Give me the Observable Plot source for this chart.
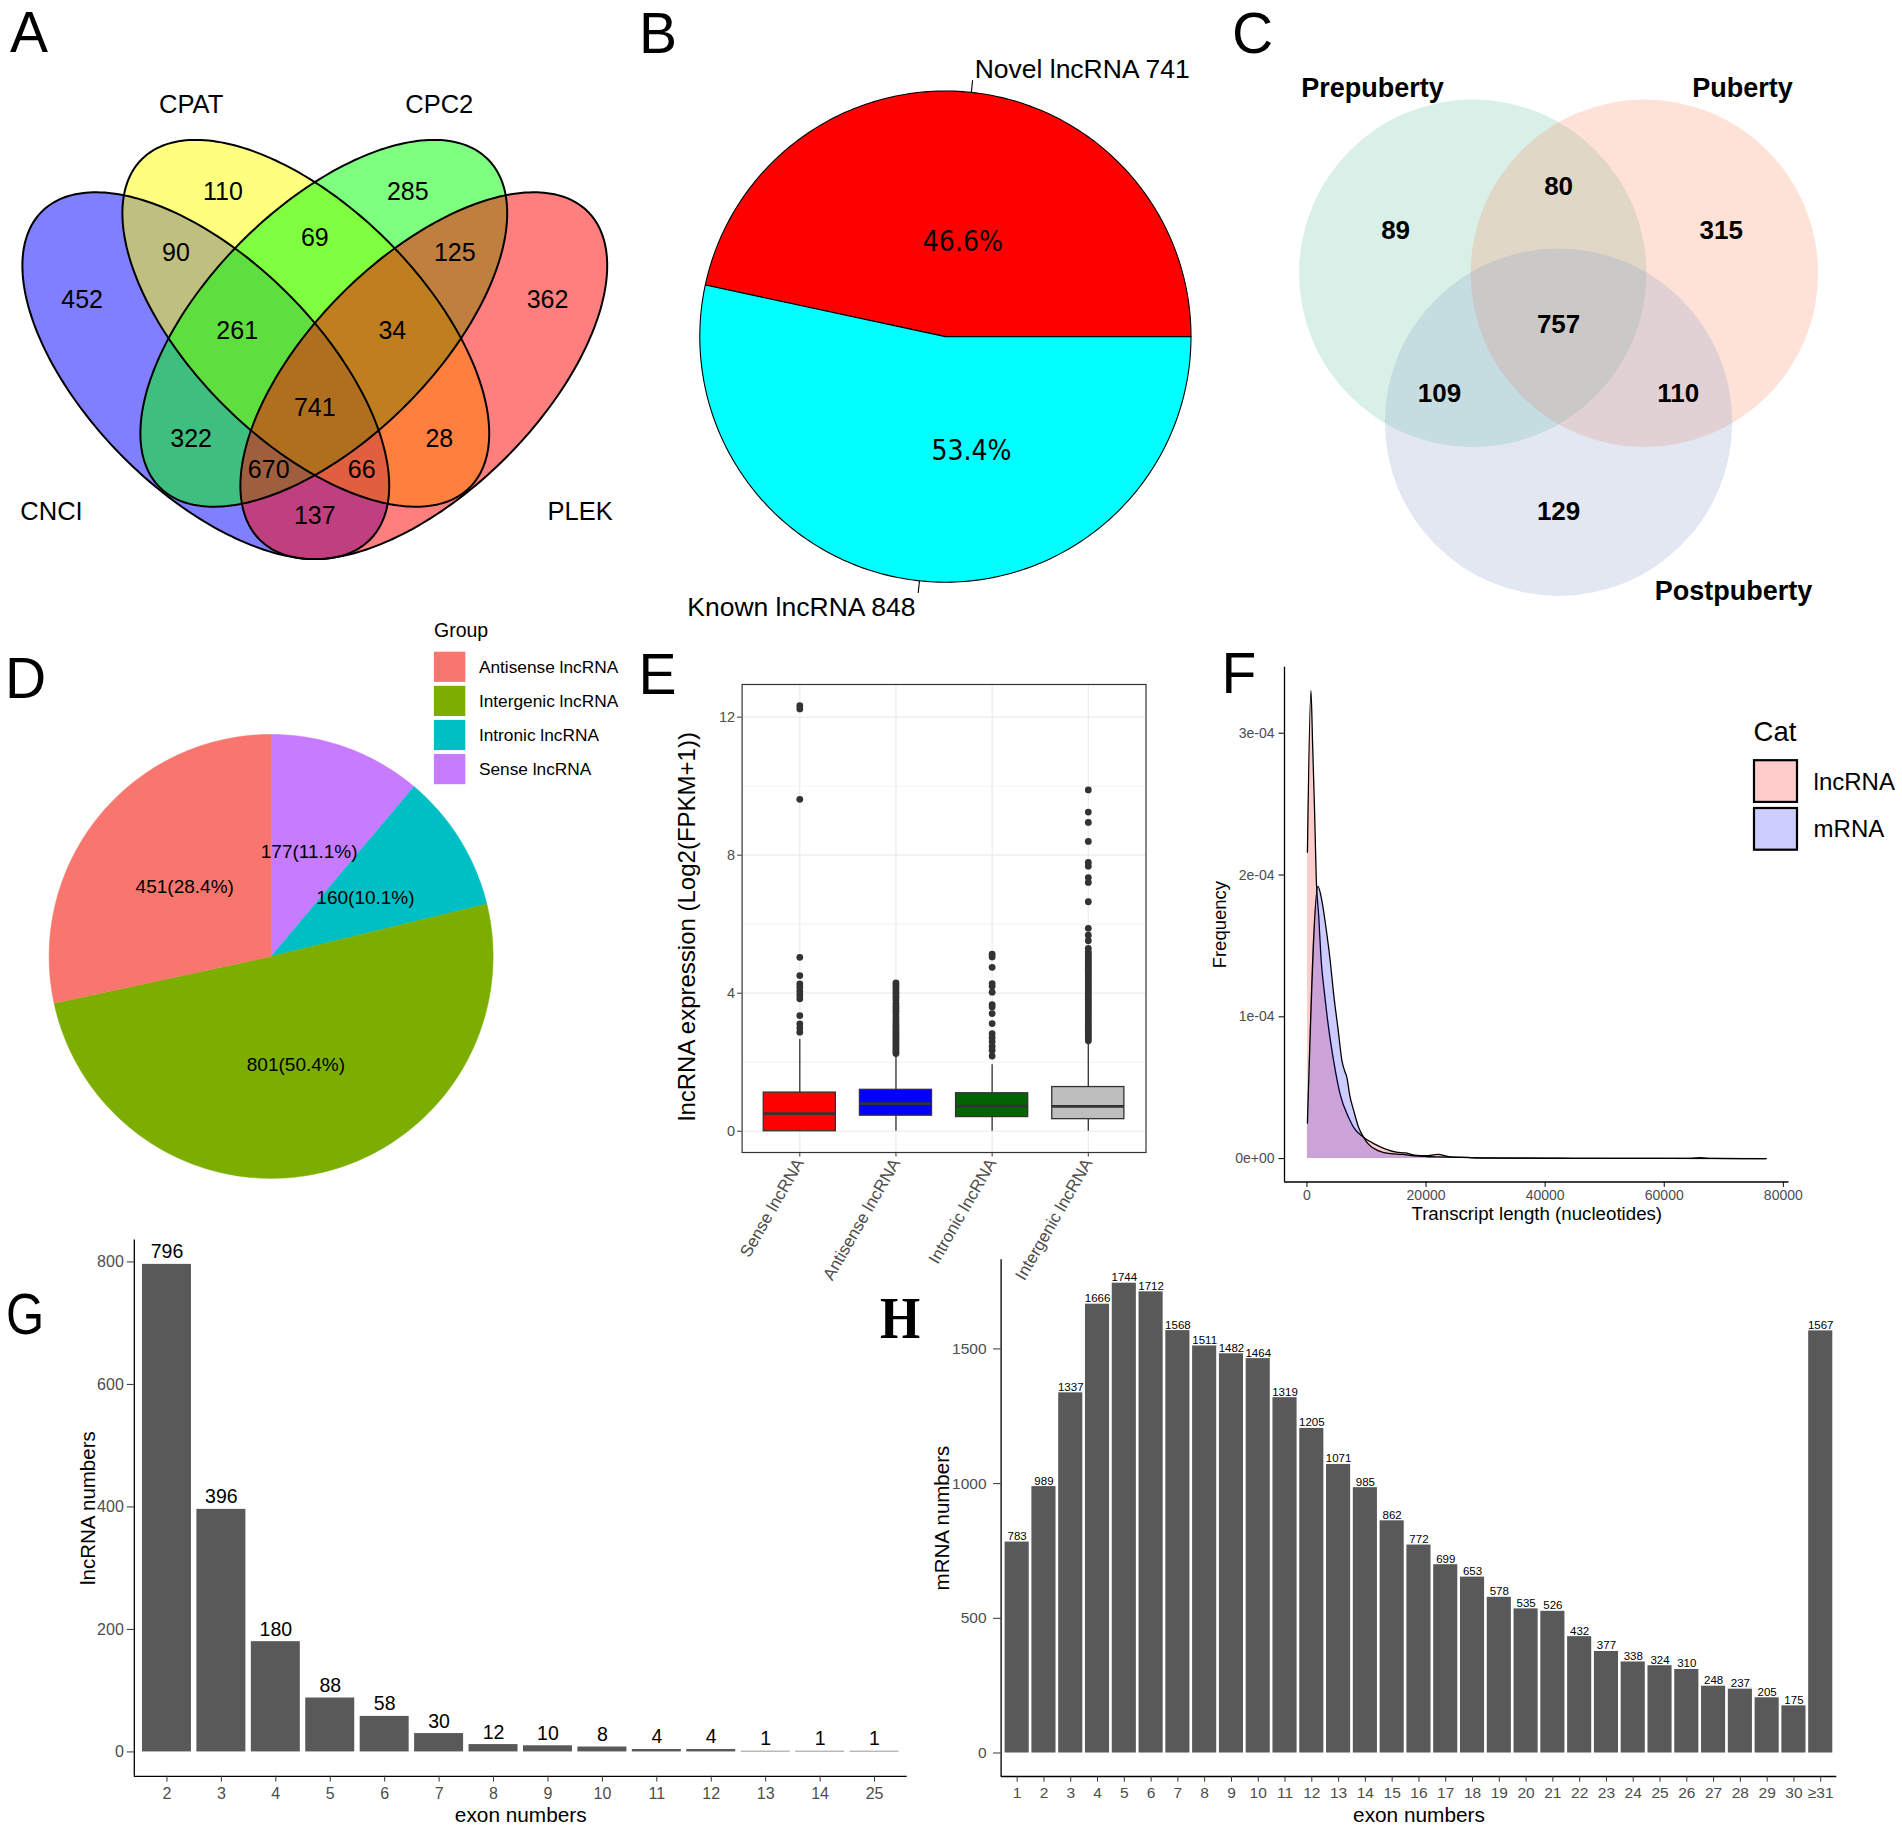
<!DOCTYPE html>
<html>
<head>
<meta charset="utf-8">
<script src="https://cdn.jsdelivr.net/npm/d3@7"></script>
<script src="https://cdn.jsdelivr.net/npm/@observablehq/plot@0.6"></script>
<style>
  html, body { margin: 0; padding: 0; background: #fff; }
  #fig { position: relative; width: 1902px; height: 1829px; overflow: hidden; background: #fff;
         font-family: "Liberation Sans", Arial, Helvetica, sans-serif; }
  #fig svg { max-width: none !important; }
  .letter { position: absolute; font-size: 57px; line-height: 1; color: #000; white-space: nowrap; transform-origin: 0 0; }
</style>
</head>
<body>
<div id="fig"></div>
<script>
// ======================= DATA =======================
// A: four-tool coding-potential Venn
const vennASets = ["CNCI", "CPAT", "CPC2", "PLEK"];
const vennAColors = ["#0000FF", "#FFFF00", "#00FF00", "#FF0000"];
const vennARegionNames = ["CNCI only", "CPAT only", "CPC2 only", "PLEK only", "CNCI∩CPAT", "CPAT∩CPC2", "CPC2∩PLEK",
  "CNCI∩CPAT∩CPC2", "CPAT∩CPC2∩PLEK", "all four", "CNCI∩CPC2", "CPAT∩PLEK", "CNCI∩CPC2∩PLEK", "CNCI∩CPAT∩PLEK", "CNCI∩PLEK"];
const vennACounts = [452, 110, 285, 362, 90, 69, 125, 261, 34, 741, 322, 28, 670, 66, 137];

// B: novel vs known lncRNA
const pieBNames = ["Novel lncRNA", "Known lncRNA"];
const pieBCounts = [741, 848];
const pieBColors = ["#FF0000", "#00FFFF"];

// C: three-stage Venn
const vennCSets = ["Prepuberty", "Puberty", "Postpuberty"];
const vennCColors = ["#66C2A5", "#FC8D62", "#8DA0CB"];
const vennCRegionNames = ["Prepuberty only", "Prepuberty∩Puberty", "Puberty only", "all three",
  "Prepuberty∩Postpuberty", "Puberty∩Postpuberty", "Postpuberty only"];
const vennCCounts = [89, 80, 315, 757, 109, 110, 129];

// D: lncRNA classes
const pieDGroups = ["Antisense lncRNA", "Intergenic lncRNA", "Intronic lncRNA", "Sense lncRNA"];
const pieDCounts = [451, 801, 160, 177];
const pieDColors = ["#F8766D", "#7CAE00", "#00BFC4", "#C77CFF"];

// E: expression boxplots (summary statistics)
const exprCats = ["Sense lncRNA", "Antisense lncRNA", "Intronic lncRNA", "Intergenic lncRNA"];
const exprColors = ["#FF0000", "#0000FF", "#006400", "#BEBEBE"];
const exprQ1 = [0.0, 0.45, 0.41, 0.35];
const exprMedian = [0.51, 0.80, 0.73, 0.72];
const exprQ3 = [1.12, 1.20, 1.10, 1.28];
const exprWhiskerLo = [0, 0, 0, 0];
const exprWhiskerHi = [2.66, 2.20, 1.93, 2.58];
const senseOutliers = [12.33, 12.24, 9.62, 5.04, 4.51, 4.27, 4.17, 4.06, 3.95, 3.84, 3.35, 3.11, 2.99, 2.87];
const antisenseOutliers = [4.30, 4.25, 4.18, 4.10, 4.02, 3.95, 3.88, 3.80, 3.70, 3.62, 3.55, 3.48, 3.40, 3.30, 3.22,
  3.15, 3.08, 3.02, 2.96, 2.90, 2.84, 2.78, 2.72, 2.66, 2.60, 2.54, 2.48, 2.42, 2.36, 2.30, 2.25];
const intronicOutliers = [5.13, 5.05, 4.75, 4.28, 4.20, 4.03, 3.67, 3.60, 3.41, 3.12, 2.83, 2.71, 2.59, 2.46, 2.35, 2.18];
const intergenicOutliers = [9.89, 9.25, 8.95, 8.40, 7.79, 7.68, 7.35, 7.21, 6.65, 5.88, 5.68, 5.52, 5.30,
  5.20, 5.14, 5.08, 5.02, 4.96, 4.90, 4.84, 4.78, 4.72, 4.66, 4.60, 4.54, 4.48, 4.42, 4.36, 4.30, 4.24, 4.18, 4.12,
  4.06, 4.00, 3.94, 3.88, 3.82, 3.76, 3.70, 3.64, 3.58, 3.52, 3.46, 3.40, 3.34, 3.28, 3.22, 3.16, 3.10, 3.04, 2.98,
  2.92, 2.86, 2.80, 2.74, 2.68, 2.62];

// F: transcript length densities (density in units of 1e-4)
const lncLength = [80, 670, 950, 1280, 1560, 1960, 2400, 2960, 3640, 4480, 5600, 7000, 7840, 9520, 11480, 13000,
  15000, 16500, 18000, 20000, 22000, 24000, 27000, 30000, 34000, 38000, 45000, 55000, 64000, 66000, 68000, 77100];
const lncDensityE4 = [2.16, 3.30, 2.92, 2.45, 1.98, 1.72, 1.39, 1.16, 0.92, 0.69, 0.45, 0.29, 0.22, 0.15, 0.10, 0.07,
  0.045, 0.04, 0.025, 0.02, 0.03, 0.012, 0.008, 0.005, 0.004, 0.004, 0.002, 0.001, 0.001, 0.006, 0.001, 0.0];
const mrnaLength = [80, 1850, 2500, 3190, 3920, 4480, 5200, 5880, 6320, 6720, 7170, 7840, 8680, 9520, 10360, 12040,
  14000, 16000, 18000, 20000, 22000, 26000, 30000, 36000, 40000, 50000, 60000, 77100];
const mrnaDensityE4 = [0.25, 1.92, 1.82, 1.63, 1.39, 1.16, 0.92, 0.69, 0.62, 0.57, 0.45, 0.34, 0.22, 0.15, 0.10, 0.055,
  0.035, 0.03, 0.02, 0.015, 0.012, 0.008, 0.004, 0.003, 0.002, 0.001, 0.001, 0.0];
const densityCats = ["lncRNA", "mRNA"];
const densityColors = ["#FF0000", "#0000FF"];

// G: lncRNA exon numbers
const lncExonCats = ["2", "3", "4", "5", "6", "7", "8", "9", "10", "11", "12", "13", "14", "25"];
const lncExonCounts = [796, 396, 180, 88, 58, 30, 12, 10, 8, 4, 4, 1, 1, 1];

// H: mRNA exon numbers
const mrnaExonCats = ["1", "2", "3", "4", "5", "6", "7", "8", "9", "10", "11", "12", "13", "14", "15", "16", "17",
  "18", "19", "20", "21", "22", "23", "24", "25", "26", "27", "28", "29", "30", "≥31"];
const mrnaExonCounts = [783, 989, 1337, 1666, 1744, 1712, 1568, 1511, 1482, 1464, 1319, 1205, 1071, 985, 862, 772,
  699, 653, 578, 535, 526, 432, 377, 338, 324, 310, 248, 237, 205, 175, 1567];

// ======================= LAYOUT (geometry only) =======================
const A_ELLIPSE = {a: 232, b: 116, centers: [[205.3, 375.2], [305.3, 322.8], [323.3, 322.8], [423.3, 375.2]], tilt: [45, 45, -45, -45]};
const A_REGION_XY = [[81.6, 299], [222.4, 191], [407.3, 191], [547, 299], [175.5, 252], [314.3, 237], [454.3, 252],
  [236.7, 330], [391.8, 330], [314.3, 407], [190.6, 438.4], [438.8, 438.4], [268.2, 469.6], [361.2, 469.6], [314.3, 515.5]];
const A_SET_XY = [[51, 519.3], [190.6, 112.9], [438.8, 112.9], [579.6, 519.3]];
const B_PIE = {cx: 304.9, cy: 336.1, r: 245.6};
const B_PCT_AT = [[0.071, 0.387], [0.106, -0.464]];
const C_CIRCLE = {r: 173.7, centers: [[212.3, 272.8], [383.9, 272.8], [298.1, 421.7]]};
const C_REGION_XY = [[135.1, 230.5], [298.1, 185.8], [460.7, 230.5], [298.1, 324.2], [179, 393.4], [417.7, 393.4], [298.1, 511.3]];
const C_SET_XY = [[112, 96.9], [482, 96.9], [473, 599]];
const D_PIE = {cx: 270.6, cy: 355.9, r: 222};
const D_LEG = {x: 433.9, w: 31.4, h: 30.2, y0: 51.7, pitch: 34.1, textX: 478.4, titleX: 433.5, titleY: 36.4};

// ======================= HELPERS =======================
const FONT = "'Liberation Sans', Arial, Helvetica, sans-serif";
const NARROW = "'Liberation Sans Narrow', 'Arial Narrow', 'DejaVu Sans Condensed', sans-serif";
const fig = document.getElementById("fig");
const baseStyle = {fontFamily: FONT, background: "transparent", overflow: "visible", maxWidth: "none"};
function put(node, left, top) {
  node.style.position = "absolute"; node.style.left = left + "px"; node.style.top = top + "px";
  fig.appendChild(node); return node;
}
function idPlot(w, h, marks) {
  return Plot.plot({
    width: w, height: h, margin: 0,
    x: {type: "linear", domain: [0, w], range: [0, w], axis: null},
    y: {type: "linear", domain: [0, h], range: [0, h], axis: null},
    color: {type: "identity"}, style: baseStyle, marks
  });
}
function expand(lo, hi, f = 0.05) { const d = hi - lo; return [lo - f * d, hi + f * d]; }
function ellipsePts(cx, cy, a, b, tiltDeg, n = 240) {
  const p = tiltDeg * Math.PI / 180, out = [];
  for (let k = 0; k < n; ++k) {
    const t = 2 * Math.PI * k / n, ex = a * Math.cos(t), ey = b * Math.sin(t);
    out.push({x: cx + ex * Math.cos(p) - ey * Math.sin(p), y: cy + ex * Math.sin(p) + ey * Math.cos(p)});
  }
  return out;
}
function wedgePts(pos, a0, a1) {
  const out = [pos(0, 0)];
  const n = Math.max(2, Math.ceil(Math.abs(a1 - a0) / (Math.PI / 180)));
  for (let k = 0; k <= n; ++k) out.push(pos(a0 + (a1 - a0) * k / n, 1));
  return out;
}
const sciFmt = d => d3.format(".0e")(d).replace(/e([+-])(\d)$/, (m, s, g) => "e" + s + "0" + g);
const intFmt = d3.format("d");

// ======================= PANEL A =======================
{
  const ells = vennASets.map((s, k) => ({s, color: vennAColors[k],
    pts: ellipsePts(A_ELLIPSE.centers[k][0], A_ELLIPSE.centers[k][1], A_ELLIPSE.a, A_ELLIPSE.b, A_ELLIPSE.tilt[k])}));
  const regions = vennACounts.map((v, k) => ({v, name: vennARegionNames[k], x: A_REGION_XY[k][0], y: A_REGION_XY[k][1]}));
  const sets = vennASets.map((s, k) => ({s, x: A_SET_XY[k][0], y: A_SET_XY[k][1]}));
  put(idPlot(640, 590, [
    ...ells.map(e => Plot.line(e.pts, {x: "x", y: "y", curve: "linear-closed", fill: e.color, fillOpacity: 0.5, stroke: "none"})),
    ...ells.map(e => Plot.line(e.pts, {x: "x", y: "y", curve: "linear-closed", stroke: "#000", strokeWidth: 2})),
    Plot.text(regions, {x: "x", y: "y", text: d => String(d.v), fontSize: 25, fill: "#000"}),
    Plot.text(sets, {x: "x", y: "y", text: "s", fontSize: 25.5, lineAnchor: "bottom", fill: "#000"})
  ]), 0, 0);
}

// ======================= PANEL B =======================
{
  const tot = d3.sum(pieBCounts);
  const pos = (t, f) => ({x: B_PIE.cx + f * B_PIE.r * Math.cos(t), y: B_PIE.cy - f * B_PIE.r * Math.sin(t)});
  let t0 = 0; const slices = [];
  pieBCounts.forEach((v, k) => { const t1 = t0 + 2 * Math.PI * v / tot; slices.push({k, v, t0, t1, mid: (t0 + t1) / 2}); t0 = t1; });
  const marks = slices.map(s => Plot.line(wedgePts(pos, s.t0, s.t1),
    {x: "x", y: "y", curve: "linear-closed", fill: pieBColors[s.k], stroke: "#000", strokeWidth: 1.1}));
  const leaders = slices.map(s => ({a: pos(s.mid, 1), b: pos(s.mid, 1.05)}));
  marks.push(Plot.link(leaders, {x1: d => d.a.x, y1: d => d.a.y, x2: d => d.b.x, y2: d => d.b.y, stroke: "#000", strokeWidth: 1.1}));
  slices.forEach(s => {
    const e = pos(s.mid, 1.05), right = Math.cos(s.mid) >= 0, up = Math.sin(s.mid) >= 0;
    marks.push(Plot.text([s], {x: () => e.x, y: () => e.y, text: d => pieBNames[d.k] + " " + d.v,
      textAnchor: right ? "start" : "end", lineAnchor: up ? "bottom" : "top",
      dx: right ? 2 : -2.6, dy: up ? -2.5 : 4, fontSize: 26.5, fill: "#000"}));
  });
  marks.push(Plot.text(slices, {x: d => B_PIE.cx + B_PCT_AT[d.k][0] * B_PIE.r, y: d => B_PIE.cy - B_PCT_AT[d.k][1] * B_PIE.r,
    text: d => (100 * d.v / tot).toFixed(1) + "%", fontSize: 28, fontFamily: NARROW, fill: "#000"}));
  put(idPlot(620, 630, marks), 640, 0);
}

// ======================= PANEL C =======================
{
  const circles = vennCSets.map((s, k) => ({s, color: vennCColors[k], x: C_CIRCLE.centers[k][0], y: C_CIRCLE.centers[k][1]}));
  const regions = vennCCounts.map((v, k) => ({v, name: vennCRegionNames[k], x: C_REGION_XY[k][0], y: C_REGION_XY[k][1]}));
  const sets = vennCSets.map((s, k) => ({s, x: C_SET_XY[k][0], y: C_SET_XY[k][1]}));
  put(idPlot(642, 630, [
    Plot.dot(circles, {x: "x", y: "y", r: C_CIRCLE.r, fill: d => d.color, fillOpacity: 0.25, stroke: "none"}),
    Plot.text(regions, {x: "x", y: "y", text: d => String(d.v), fontSize: 26, fontWeight: "bold", fill: "#000"}),
    Plot.text(sets, {x: "x", y: "y", text: "s", fontSize: 27, fontWeight: "bold", lineAnchor: "bottom", fill: "#000"})
  ]), 1260, 0);
}

// ======================= PANEL D =======================
{
  const tot = d3.sum(pieDCounts);
  const pos = (a, f) => ({x: D_PIE.cx + f * D_PIE.r * Math.sin(a), y: D_PIE.cy - f * D_PIE.r * Math.cos(a)});
  let a0 = 0; const slices = [];
  [3, 2, 1, 0].forEach(k => { const v = pieDCounts[k], a1 = a0 + 2 * Math.PI * v / tot; slices.push({k, v, a0, a1, mid: (a0 + a1) / 2}); a0 = a1; });
  const marks = slices.map(s => Plot.line(wedgePts(pos, s.a0, s.a1),
    {x: "x", y: "y", curve: "linear-closed", fill: pieDColors[s.k], stroke: pieDColors[s.k], strokeWidth: 0.5}));
  marks.push(Plot.text(slices, {x: d => pos(d.mid, 0.5).x, y: d => pos(d.mid, 0.5).y,
    text: d => d.v + "(" + (100 * d.v / tot).toFixed(1) + "%)", fontSize: 19, fill: "#000"}));
  const leg = pieDGroups.map((g, k) => ({g, color: pieDColors[k], y1: D_LEG.y0 + k * D_LEG.pitch}));
  marks.push(Plot.rect(leg, {x1: () => D_LEG.x, x2: () => D_LEG.x + D_LEG.w, y1: "y1", y2: d => d.y1 + D_LEG.h, fill: d => d.color}));
  marks.push(Plot.text(leg, {x: () => D_LEG.textX, y: d => d.y1 + D_LEG.h / 2, text: "g", textAnchor: "start", fontSize: 17.3, fill: "#000"}));
  marks.push(Plot.text(["Group"], {x: () => D_LEG.titleX, y: () => D_LEG.titleY, textAnchor: "start", lineAnchor: "bottom", fontSize: 19.5, fill: "#000"}));
  put(idPlot(640, 600, marks), 0, 600);
}

// ======================= PANELS G / H =======================
function barPanel({cats, counts, width, height, mL, mR, mT, mB, yTicks, labelSize, labelDy, tickFont,
                   yTickSize, yTickPad, xTickPad, yTitle, yTitleDx, xTitleDy}) {
  const rows = counts.map((v, k) => ({i: k + 1, v}));
  const yDom = expand(0, d3.max(counts));
  const xDom = [1 - 0.6, cats.length + 0.6];
  return Plot.plot({
    width, height, marginLeft: mL, marginRight: mR, marginTop: mT, marginBottom: mB,
    x: {domain: xDom}, y: {domain: yDom}, style: baseStyle,
    marks: [
      Plot.rect(rows, {x1: d => d.i - 0.45, x2: d => d.i + 0.45, y1: 0, y2: "v", fill: "#595959"}),
      Plot.text(rows, {x: "i", y: "v", text: d => String(d.v), lineAnchor: "bottom", dy: labelDy, fontSize: labelSize, fill: "#000"}),
      Plot.ruleX([xDom[0]], {stroke: "#000", strokeWidth: 1.3}),
      Plot.ruleY([yDom[0]], {stroke: "#000", strokeWidth: 1.3}),
      Plot.axisY({ticks: yTicks, tickFormat: intFmt, tickSize: yTickSize, tickPadding: yTickPad, fontSize: tickFont,
        fill: "#4D4D4D", stroke: "#333", label: null}),
      Plot.axisX({ticks: rows.map(d => d.i), tickFormat: i => cats[i - 1], tickSize: 5.7, tickPadding: xTickPad,
        fontSize: tickFont, fill: "#4D4D4D", stroke: "#333", label: null}),
      Plot.text([yTitle], {frameAnchor: "left", rotate: -90, dx: yTitleDx, fontSize: 20.5, textAnchor: "middle", fill: "#000"}),
      Plot.text(["exon numbers"], {frameAnchor: "bottom", dy: xTitleDy, lineAnchor: "bottom", fontSize: 20.8, fill: "#000"})
    ]
  });
}
put(barPanel({cats: lncExonCats, counts: lncExonCounts, width: 920, height: 599, mL: 133.8, mR: 13.3, mT: 9.5, mB: 53.2,
  yTicks: [0, 200, 400, 600, 800], labelSize: 19.5, labelDy: -6, tickFont: 16, yTickSize: 7, yTickPad: 3.5, xTickPad: 6,
  yTitle: "lncRNA numbers", yTitleDx: -45.8, xTitleDy: 45.5}), 0, 1230);
put(barPanel({cats: mrnaExonCats, counts: mrnaExonCounts, width: 1022, height: 599, mL: 120.6, mR: 65.7, mT: 29.2, mB: 53,
  yTicks: [0, 500, 1000, 1500], labelSize: 11.5, labelDy: -2, tickFont: 15.5, yTickSize: 7.5, yTickPad: 7, xTickPad: 4.5,
  yTitle: "mRNA numbers", yTitleDx: -58.7, xTitleDy: 45.3}), 880, 1230);

// ======================= PANEL E =======================
{
  const outs = [senseOutliers, antisenseOutliers, intronicOutliers, intergenicOutliers].flatMap((arr, k) => arr.map(v => ({i: k + 1, v})));
  const yDom = expand(0, d3.max(outs, d => d.v));
  const boxes = exprCats.map((c, k) => ({i: k + 1, q1: exprQ1[k], med: exprMedian[k], q3: exprQ3[k],
    lo: exprWhiskerLo[k], hi: exprWhiskerHi[k], color: exprColors[k]}));
  put(Plot.plot({
    width: 540, height: 660, marginLeft: 101.6, marginRight: 34.5, marginTop: 44, marginBottom: 148,
    x: {domain: [0.4, 4.6]}, y: {domain: yDom}, color: {type: "identity"}, style: baseStyle,
    marks: [
      Plot.ruleY([2, 6, 10], {stroke: "#EBEBEB", strokeWidth: 0.6}),
      Plot.ruleY([0, 4, 8, 12], {stroke: "#EBEBEB", strokeWidth: 1.2}),
      Plot.ruleX([1, 2, 3, 4], {stroke: "#EBEBEB", strokeWidth: 1.2}),
      Plot.ruleX(boxes, {x: "i", y1: "lo", y2: "q1", stroke: "#333", strokeWidth: 1.3}),
      Plot.ruleX(boxes, {x: "i", y1: "q3", y2: "hi", stroke: "#333", strokeWidth: 1.3}),
      Plot.rect(boxes, {x1: d => d.i - 0.375, x2: d => d.i + 0.375, y1: "q1", y2: "q3", fill: d => d.color, stroke: "#333", strokeWidth: 1.3}),
      Plot.ruleY(boxes, {y: "med", x1: d => d.i - 0.375, x2: d => d.i + 0.375, stroke: "#333", strokeWidth: 2.8}),
      Plot.dot(outs, {x: "i", y: "v", r: 3.4, fill: "#333", stroke: "none"}),
      Plot.frame({stroke: "#333", strokeWidth: 1.2}),
      Plot.axisY({ticks: [0, 4, 8, 12], tickSize: 4.5, tickPadding: 2.5, fontSize: 14.5, fill: "#4D4D4D", stroke: "#333", label: null}),
      Plot.axisX({ticks: [1, 2, 3, 4], tickFormat: i => exprCats[i - 1], tickRotate: -60, tickSize: 4.5, tickPadding: 3,
        fontSize: 17, fill: "#4D4D4D", stroke: "#333", label: null}),
      Plot.text(["lncRNA expression (Log2(FPKM+1))"], {frameAnchor: "left", rotate: -90, dx: -55.1, dy: 8, fontSize: 24, textAnchor: "middle", fill: "#000"})
    ]
  }), 640, 640);
}

// ======================= PANEL F =======================
{
  const lnc = lncLength.map((x, k) => ({x, y: lncDensityE4[k] * 1e-4}));
  const mrna = mrnaLength.map((x, k) => ({x, y: mrnaDensityE4[k] * 1e-4}));
  const xDom = expand(d3.min([...lncLength, ...mrnaLength]), d3.max([...lncLength, ...mrnaLength]));
  const yDom = expand(0, d3.max([...lnc, ...mrna], d => d.y));
  put(Plot.plot({
    width: 712, height: 600, marginLeft: 94, marginRight: 113.5, marginTop: 26.8, marginBottom: 58.5,
    x: {domain: xDom}, y: {domain: yDom}, style: baseStyle,
    marks: [
      Plot.areaY(lnc, {x: "x", y: "y", fill: densityColors[0], fillOpacity: 0.2, curve: "monotone-x"}),
      Plot.lineY(lnc, {x: "x", y: "y", stroke: "#000", strokeWidth: 1.3, curve: "monotone-x"}),
      Plot.areaY(mrna, {x: "x", y: "y", fill: densityColors[1], fillOpacity: 0.2, curve: "monotone-x"}),
      Plot.lineY(mrna, {x: "x", y: "y", stroke: "#000", strokeWidth: 1.3, curve: "monotone-x"}),
      Plot.ruleX([xDom[0]], {stroke: "#000", strokeWidth: 1.3}),
      Plot.ruleY([yDom[0]], {stroke: "#000", strokeWidth: 1.3}),
      Plot.axisX({ticks: [0, 20000, 40000, 60000, 80000], tickFormat: intFmt, tickSize: 5.4, tickPadding: 2.5,
        fontSize: 14, fill: "#4D4D4D", stroke: "#000", label: null}),
      Plot.axisY({ticks: [0, 1e-4, 2e-4, 3e-4], tickFormat: sciFmt, tickSize: 5.4, tickPadding: 4.5,
        fontSize: 14, fill: "#4D4D4D", stroke: "#000", label: null}),
      Plot.text(["Frequency"], {frameAnchor: "left", rotate: -90, dx: -64.5, fontSize: 18.5, textAnchor: "middle", fill: "#000"}),
      Plot.text(["Transcript length (nucleotides)"], {frameAnchor: "bottom", dy: 38.3, lineAnchor: "bottom", fontSize: 18.7, fill: "#000"})
    ]
  }), 1190, 640);
  // legend
  const leg = densityCats.map((c, k) => ({c, color: densityColors[k], y1: 59.4 + k * 47.8}));
  put(idPlot(162, 160, [
    Plot.text(["Cat"], {x: () => 13.1, y: () => 40.3, textAnchor: "start", lineAnchor: "bottom", fontSize: 27.5, fill: "#000"}),
    Plot.rect(leg, {x1: () => 14, x2: () => 57, y1: d => d.y1 + 0.8, y2: d => d.y1 + 42.5, fill: d => d.color, fillOpacity: 0.2, stroke: "#000", strokeWidth: 2.2}),
    Plot.text(leg, {x: () => 73.1, y: d => d.y1 + 22, text: "c", textAnchor: "start", fontSize: 24, fill: "#000"})
  ]), 1740, 700);
}

// ======================= PANEL LETTERS =======================
const panelLetters = [
  {t: "A", left: 10, top: 4}, {t: "B", left: 639, top: 4.6}, {t: "C", left: 1232, top: 4.6},
  {t: "D", left: 5, top: 649.6}, {t: "E", left: 638.5, top: 645.6}, {t: "F", left: 1221.5, top: 644.6},
  {t: "G", left: 6, top: 1285.6, sx: 0.86}, {t: "H", left: 880, top: 1288, serif: true, sx: 0.86}
];
panelLetters.forEach(p => {
  const d = document.createElement("div");
  d.className = "letter"; d.textContent = p.t;
  d.style.left = p.left + "px"; d.style.top = p.top + "px";
  if (p.serif) { d.style.fontFamily = "'Liberation Serif', 'DejaVu Serif', serif"; d.style.fontWeight = "bold"; d.style.fontSize = "60px"; }
  if (p.sx) d.style.transform = "scaleX(" + p.sx + ")";
  fig.appendChild(d);
});
</script>
</body>
</html>
